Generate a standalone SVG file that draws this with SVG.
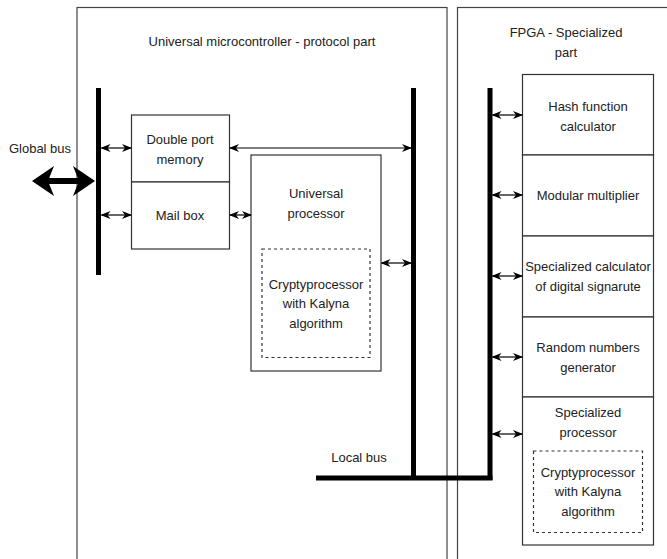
<svg xmlns="http://www.w3.org/2000/svg" width="667" height="559" viewBox="0 0 667 559">
<style>
.box{fill:#fff;stroke:#333;stroke-width:1.2}
.outer{fill:#fff;stroke:#444;stroke-width:1.2}
.dash{fill:none;stroke:#333;stroke-width:1.2;stroke-dasharray:3 3}
.bus{stroke:#000;stroke-width:5;fill:none}
.arr{stroke:#000;stroke-width:1.2;fill:none;marker-start:url(#a);marker-end:url(#a)}
text{font-family:"Liberation Sans",Arial,sans-serif;font-size:13px;fill:#222;text-anchor:middle}
</style>
<defs>
<marker id="a" viewBox="0 0 10 8" refX="9" refY="4" markerWidth="10" markerHeight="8" markerUnits="userSpaceOnUse" orient="auto-start-reverse">
<path d="M0,0 L10,4 L0,8 L3,4 Z" fill="#000"/>
</marker>
<marker id="big" viewBox="0 0 22 30" refX="16" refY="15" markerWidth="22" markerHeight="30" markerUnits="userSpaceOnUse" orient="auto-start-reverse">
<path d="M0,0 L22,15 L0,30 L6,15 Z" fill="#000"/>
</marker>
</defs>
<rect width="667" height="559" fill="#fff"/>
<g id="mcu">
<rect class="outer" x="77" y="7.5" width="370" height="560"/>
<text x="262" y="45.5">Universal microcontroller - protocol part</text>
</g>
<g id="fpga">
<rect class="outer" x="457.5" y="7.5" width="230" height="560"/>
<text x="566" y="36.5">FPGA - Specialized</text>
<text x="566" y="56.5">part</text>
</g>
<g id="dpm">
<rect class="box" x="131.5" y="115" width="98" height="67"/>
<text x="180" y="143.5">Double port</text>
<text x="180" y="163.5">memory</text>
</g>
<g id="mailbox">
<rect class="box" x="131.5" y="182" width="98" height="67"/>
<text x="180" y="219.5">Mail box</text>
</g>
<g id="uproc">
<rect class="box" x="251" y="155" width="130" height="216"/>
<text x="316" y="197.5">Universal</text>
<text x="316" y="217.5">processor</text>
</g>
<g id="crypto1">
<rect class="dash" x="262" y="249" width="108" height="108.5"/>
<text x="316" y="288.5">Cryptyprocessor</text>
<text x="316" y="307.5">with Kalyna</text>
<text x="316" y="327.5">algorithm</text>
</g>
<g id="hash">
<rect class="box" x="522.5" y="74.5" width="131" height="80.5"/>
<text x="588" y="110.5">Hash function</text>
<text x="588" y="130.5">calculator</text>
</g>
<g id="modmul">
<rect class="box" x="522.5" y="155" width="131" height="81"/>
<text x="588" y="199.5">Modular multiplier</text>
</g>
<g id="sigcalc">
<rect class="box" x="522.5" y="236" width="131" height="81"/>
<text x="588" y="270.5">Specialized calculator</text>
<text x="588" y="290.5">of digital signarute</text>
</g>
<g id="rng">
<rect class="box" x="522.5" y="317" width="131" height="80"/>
<text x="588" y="351.5">Random numbers</text>
<text x="588" y="371.5">generator</text>
</g>
<g id="sproc">
<rect class="box" x="522.5" y="397" width="131" height="148"/>
<text x="588" y="416.5">Specialized</text>
<text x="588" y="436.5">processor</text>
</g>
<g id="crypto2">
<rect class="dash" x="533.5" y="451" width="109" height="81.5"/>
<text x="588" y="476.5">Cryptyprocessor</text>
<text x="588" y="495.5">with Kalyna</text>
<text x="588" y="515.5">algorithm</text>
</g>
<g id="labels">
<text x="40" y="152.5">Global bus</text>
<text x="359" y="462">Local bus</text>
</g>
<g id="connectors">
<line class="bus" x1="98.5" y1="88" x2="98.5" y2="275"/>
<line class="bus" x1="413.5" y1="88" x2="413.5" y2="480"/>
<line class="bus" x1="490" y1="88" x2="490" y2="480"/>
<line class="bus" x1="316" y1="478" x2="492.5" y2="478"/>
<line x1="38" y1="181" x2="89" y2="181" stroke="#000" stroke-width="6" marker-start="url(#big)" marker-end="url(#big)"/>
<line class="arr" x1="101.5" y1="148" x2="131" y2="148"/>
<line class="arr" x1="101.5" y1="215" x2="131" y2="215"/>
<line class="arr" x1="230" y1="148" x2="411" y2="148"/>
<line class="arr" x1="230" y1="215" x2="251" y2="215"/>
<line class="arr" x1="381.5" y1="263" x2="411" y2="263"/>
<line class="arr" x1="492.5" y1="115" x2="522" y2="115"/>
<line class="arr" x1="492.5" y1="195" x2="522" y2="195"/>
<line class="arr" x1="492.5" y1="276" x2="522" y2="276"/>
<line class="arr" x1="492.5" y1="357" x2="522" y2="357"/>
<line class="arr" x1="492.5" y1="434" x2="522" y2="434"/>
</g>
</svg>
